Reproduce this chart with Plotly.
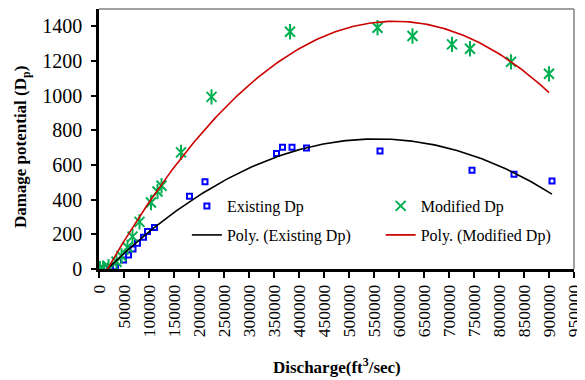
import numpy as np
import plotly.graph_objects as go

# Existing Dp observations
existing_x = [5000, 12000, 22000, 33000, 49000, 59000, 68000, 77000, 89000, 97000, 111000,
              181000, 212000, 355000, 367000, 386000, 415000, 562000, 746000, 830000, 906000]
existing_y = [2, 4, 6, 13, 52, 81, 116, 148, 183, 216, 239,
              420, 503, 667, 702, 702, 698, 681, 569, 546, 507]

# Modified Dp observations
modified_x = [2000, 8000, 19000, 35000, 45000, 57000, 67000, 81000, 104000, 117000, 125000,
              164000, 225000, 382000, 557000, 627000, 706000, 742000, 824000, 900000]
modified_y = [2, 4, 13, 42, 75, 125, 187, 272, 384, 447, 480,
              673, 993, 1369, 1392, 1344, 1296, 1271, 1195, 1126]

x_ticks = list(range(0, 950001, 50000))
y_ticks = list(range(0, 1401, 200))

def poly_trend(xs, ys):
    c = np.polyfit(xs, ys, 2)
    xx = np.linspace(min(xs), max(xs), 200)
    return xx, np.polyval(c, xx)

ex_tx, ex_ty = poly_trend(existing_x, existing_y)
mo_tx, mo_ty = poly_trend(modified_x, modified_y)

BLUE = "#0000ff"
GREEN = "#00b050"
FONT = "Liberation Serif"

fig = go.Figure()
fig.add_trace(go.Scatter(x=existing_x, y=existing_y, mode="markers", name="Existing Dp",
                         marker=dict(symbol="square-open", size=5, color=BLUE, line=dict(width=2, color=BLUE)),
                         legend="legend"))
fig.add_trace(go.Scatter(x=modified_x, y=modified_y, mode="markers", name="Modified Dp",
                         marker=dict(symbol="x-thin-open", size=10, color=GREEN, line=dict(width=2, color=GREEN)),
                         legend="legend2"))
fig.add_trace(go.Scatter(x=modified_x, y=modified_y, mode="markers", showlegend=False, hoverinfo="skip",
                         marker=dict(symbol="line-ns-open", size=11, color=GREEN, line=dict(width=2, color=GREEN))))
fig.add_trace(go.Scatter(x=ex_tx, y=ex_ty, mode="lines", name="Poly. (Existing Dp)",
                         line=dict(color="black", width=1.6), legend="legend3"))
fig.add_trace(go.Scatter(x=mo_tx, y=mo_ty, mode="lines", name="Poly. (Modified Dp)",
                         line=dict(color="#cc0000", width=1.6), legend="legend4"))

def leg(x, y):
    return dict(x=x, y=y, orientation="v", bgcolor="rgba(0,0,0,0)",
                font=dict(family=FONT, size=16, color="black"),
                xanchor="left", yanchor="middle", itemwidth=30)

row1 = (269 - 206) / 260
row2 = (269 - 235) / 260
fig.update_layout(
    width=577, height=372,
    margin=dict(l=91, r=11, t=1, b=111, autoexpand=False),
    paper_bgcolor="white", plot_bgcolor="white",
    font=dict(family=FONT, color="black"),
    showlegend=True,
    legend=leg(0.185, row1),
    legend2=leg(0.593, row1),
    legend3=leg(0.185, row2),
    legend4=leg(0.593, row2),
    xaxis=dict(range=[0, 950000], tickvals=x_ticks, ticktext=[str(v) for v in x_ticks],
               tickangle=-90, tickfont=dict(family=FONT, size=17.5, color="black"),
               ticks="outside", ticklen=6, tickwidth=1.5, tickcolor="black",
               showline=True, linecolor="black", linewidth=2.5, mirror=False,
               showgrid=False, zeroline=False, automargin=False),
    yaxis=dict(range=[0, 1500], tickvals=y_ticks, tickfont=dict(family=FONT, size=20, color="black"),
               ticks="outside", ticklen=5, tickwidth=1.5, tickcolor="black", ticklabelstandoff=5,
               showline=True, linecolor="black", linewidth=2.5,
               showgrid=False, zeroline=False, automargin=False),
    annotations=[
        dict(text="<b>Discharge</b><b>(ft<sup>3</sup>/sec)</b>", xref="paper", yref="paper",
             x=0.5, y=-0.373, xanchor="center", yanchor="middle", showarrow=False,
             font=dict(family=FONT, size=17, color="black")),
        dict(text="<b>Damage potential (D<sub>p</sub>)</b>", xref="paper", yref="paper",
             x=-0.162, y=0.469, xanchor="center", yanchor="middle", showarrow=False, textangle=-90,
             font=dict(family=FONT, size=17, color="black")),
    ],
    shapes=[dict(type="line", xref="paper", yref="paper", x0=0, x1=1, y0=1, y1=1,
                 line=dict(color="#a0a0a0", width=2)),
            dict(type="line", xref="paper", yref="paper", x0=1, x1=1, y0=0, y1=1,
                 line=dict(color="#a0a0a0", width=2))],
)

fig.write_html("out.html")
